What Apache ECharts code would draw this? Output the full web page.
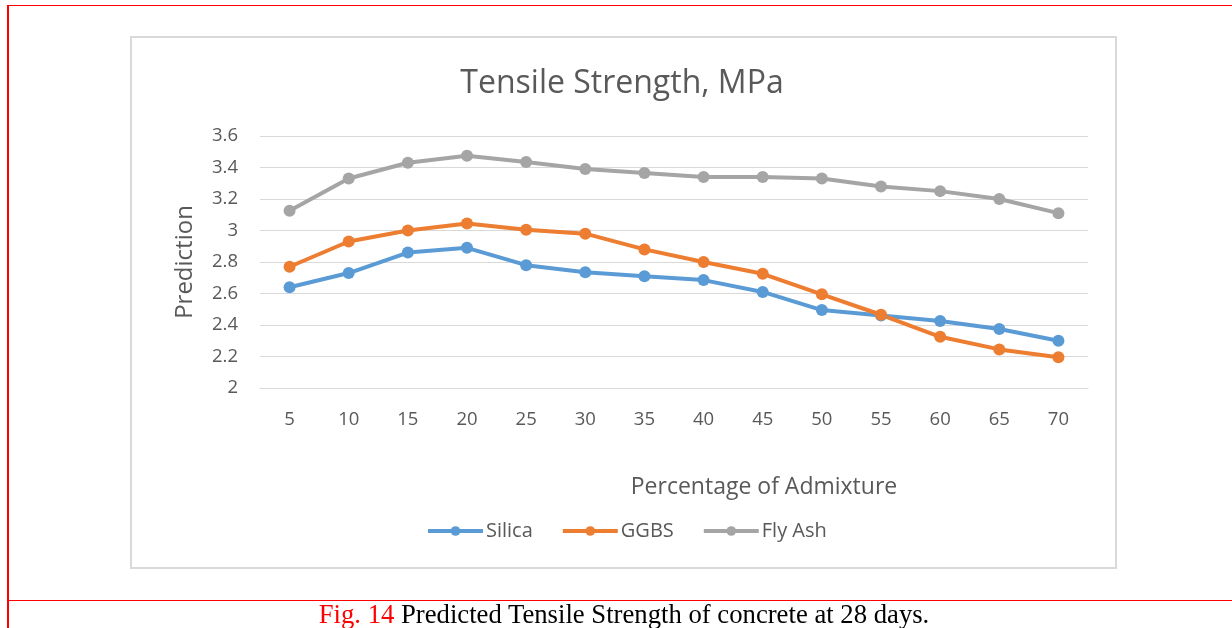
<!DOCTYPE html>
<html>
<head>
<meta charset="utf-8">
<script src="https://cdn.jsdelivr.net/npm/echarts@6/dist/echarts.min.js"></script>
<style>
  html, body { margin: 0; padding: 0; background: #fff; width: 1232px; height: 628px; overflow: hidden; }
  #frameLeft { position: absolute; left: 7px; top: 5px; width: 2px; height: 623px; background: #ff0000; }
  #frameTop { position: absolute; left: 7px; top: 5px; width: 1225px; height: 1px; background: #ff0000; }
  #frameBottom { position: absolute; left: 7px; top: 600px; width: 1225px; height: 1px; background: #ff0000; }
  #box { position: absolute; left: 130px; top: 36px; width: 983px; height: 529px; border: 2px solid #d9d9d9; }
  #chart { position: absolute; left: 0; top: 0; width: 1232px; height: 628px; }
  #caption { position: absolute; left: 0; width: 1232px; top: 599px; text-align: center; font-family: "Liberation Serif", "Times New Roman", serif; font-size: 26.7px; color: #000; white-space: nowrap; padding-left: 8px; }
  #caption .fig { color: #ff0000; }
</style>
</head>
<body>
<div id="frameLeft"></div>
<div id="frameTop"></div>
<div id="frameBottom"></div>
<div id="box"></div>
<div id="chart"></div>
<div id="caption"><span class="fig">Fig. 14</span> Predicted Tensile Strength of concrete at 28 days.</div>
<script>
const categories = ['5','10','15','20','25','30','35','40','45','50','55','60','65','70'];
const silica = [2.64, 2.73, 2.86, 2.89, 2.78, 2.735, 2.71, 2.685, 2.61, 2.495, 2.46, 2.425, 2.375, 2.30];
const ggbs   = [2.77, 2.93, 3.00, 3.045, 3.005, 2.98, 2.88, 2.80, 2.725, 2.595, 2.465, 2.325, 2.245, 2.195];
const flyAsh = [3.125, 3.33, 3.43, 3.475, 3.435, 3.39, 3.365, 3.34, 3.34, 3.33, 3.28, 3.25, 3.20, 3.11];
const yTicks = { min: 2, max: 3.6, interval: 0.2 };

const FONT = '"Open Sans", Lato, sans-serif';
const TXT = '#595959';
const chart = echarts.init(document.getElementById('chart'), null, { renderer: 'canvas' });

function lineSeries(name, data, color) {
  return {
    name: name, type: 'line', data: data,
    symbol: 'circle', symbolSize: 12,
    lineStyle: { width: 4, color: color },
    itemStyle: { color: color },
    emphasis: { disabled: true },
    animation: false
  };
}

chart.setOption({
  animation: false,
  textStyle: { fontFamily: FONT },
  title: {
    text: 'Tensile Strength, MPa',
    left: 617, top: 63, textAlign: 'center',
    textStyle: { fontFamily: FONT, fontSize: 32, fontWeight: 'normal', color: TXT }
  },
  legend: {
    data: ['Silica', 'GGBS', 'Fly Ash'],
    left: 421, top: 516,
    itemWidth: 55, itemHeight: 12, itemGap: 28,
    lineStyle: { width: 4 },
    textStyle: { fontFamily: FONT, fontSize: 20, color: TXT, padding: [0, 0, 0, -2] }
  },
  grid: { left: 260, right: 144, top: 136, bottom: 240, containLabel: false },
  xAxis: {
    type: 'category', data: categories, boundaryGap: true,
    name: 'Percentage of Admixture', nameLocation: 'middle', nameGap: 88,
    nameTextStyle: { fontFamily: FONT, fontSize: 23, color: TXT, padding: [0, 0, 0, 180] },
    axisLine: { show: true, lineStyle: { color: '#d9d9d9', width: 1 } },
    axisTick: { show: false },
    axisLabel: { fontFamily: FONT, fontSize: 18.5, color: TXT, margin: 22 }
  },
  yAxis: {
    type: 'value', min: yTicks.min, max: yTicks.max, interval: yTicks.interval,
    name: 'Prediction', nameLocation: 'middle', nameGap: 63, nameRotate: 90,
    nameTextStyle: { fontFamily: FONT, fontSize: 24, color: TXT },
    axisLine: { show: false }, axisTick: { show: false },
    splitLine: { lineStyle: { color: '#d9d9d9', width: 1 } },
    axisLabel: { fontFamily: FONT, fontSize: 18.5, color: TXT, margin: 22 }
  },
  series: [
    lineSeries('Silica', silica, '#5b9bd5'),
    lineSeries('GGBS', ggbs, '#ed7d31'),
    lineSeries('Fly Ash', flyAsh, '#a5a5a5')
  ]
});
</script>
</body>
</html>
